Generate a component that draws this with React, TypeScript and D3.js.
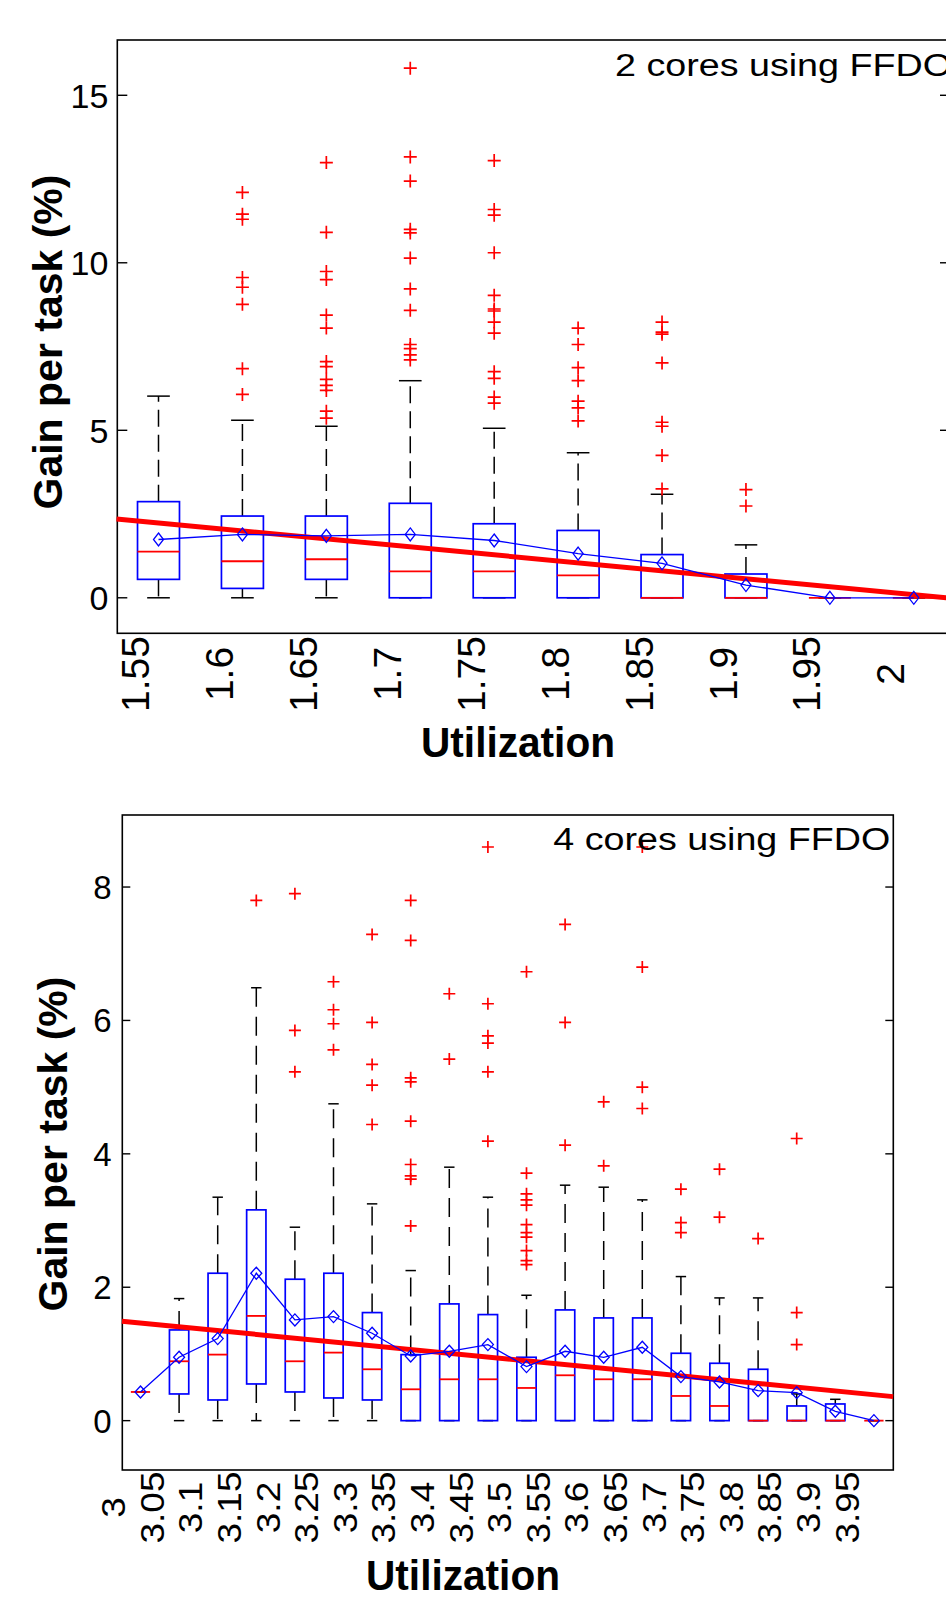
import * as d3 from 'd3'
import { useEffect, useRef } from 'react'

// ---- top panel: 2 cores using FFDO ----
const topUtil = [1.55, 1.6, 1.65, 1.7, 1.75, 1.8, 1.85, 1.9, 1.95, 2.0]
const topLabels = ['1.55', '1.6', '1.65', '1.7', '1.75', '1.8', '1.85', '1.9', '1.95', '2']
const topQ1 = [0.55, 0.28, 0.55, 0, 0, 0, 0, 0, 0, 0]
const topMedian = [1.38, 1.09, 1.15, 0.79, 0.79, 0.67, 0, 0, 0, 0]
const topQ3 = [2.87, 2.44, 2.44, 2.82, 2.21, 2.01, 1.29, 0.71, 0, 0]
const topLow = [0, 0, 0, 0, 0, 0, 0, 0, 0, 0]
const topHigh = [6.02, 5.3, 5.12, 6.48, 5.06, 4.33, 3.09, 1.58, 0, 0]
const topMean = [1.74, 1.89, 1.85, 1.89, 1.71, 1.32, 1.03, 0.38, 0, 0]
const topOutliers = [
    [],
    [12.1, 11.45, 11.3, 9.56, 9.27, 8.76, 6.84, 6.07],
    [12.99, 10.91, 9.74, 9.5, 8.44, 8.05, 7.05, 6.9, 6.52, 6.34, 6.19, 5.57, 5.36],
    [15.81, 13.16, 12.44, 11.0, 10.89, 10.14, 9.22, 8.58, 7.56, 7.44, 7.25, 7.1],
    [13.05, 11.59, 11.42, 10.3, 9.03, 8.62, 8.56, 8.23, 7.9, 6.75, 6.55, 5.99, 5.81],
    [8.05, 7.56, 6.87, 6.48, 5.87, 5.67, 5.28],
    [8.23, 7.93, 7.87, 7.01, 5.24, 5.12, 4.25, 3.25],
    [3.23, 2.74],
    [],
    []
]
const topTrend = [[1.525, 2.35], [2.02, 0]]
const topYTicks = [0, 5, 10, 15]

// ---- bottom panel: 4 cores using FFDO ----
const botUtil = [3.0, 3.05, 3.1, 3.15, 3.2, 3.25, 3.3, 3.35, 3.4, 3.45, 3.5, 3.55, 3.6, 3.65, 3.7, 3.75, 3.8, 3.85, 3.9, 3.95]
const botLabels = ['3', '3.05', '3.1', '3.15', '3.2', '3.25', '3.3', '3.35', '3.4', '3.45', '3.5', '3.55', '3.6', '3.65', '3.7', '3.75', '3.8', '3.85', '3.9', '3.95']
const botQ1 = [0.43, 0.40, 0.31, 0.55, 0.43, 0.34, 0.31, 0, 0, 0, 0, 0, 0, 0, 0, 0, 0, 0, 0, 0]
const botMedian = [0.43, 0.89, 0.99, 1.57, 0.89, 1.02, 0.77, 0.47, 0.62, 0.62, 0.49, 0.68, 0.62, 0.62, 0.37, 0.22, 0, 0, 0, 0]
const botQ3 = [0.43, 1.36, 2.21, 3.16, 2.12, 2.21, 1.62, 0.99, 1.75, 1.59, 0.95, 1.66, 1.54, 1.54, 1.01, 0.86, 0.77, 0.22, 0.25, 0]
const botLow = [0.43, 0, 0, 0, 0, 0, 0, 0, 0, 0, 0, 0, 0, 0, 0, 0, 0, 0, 0, 0]
const botHigh = [0.43, 1.83, 3.35, 6.49, 2.9, 4.75, 3.25, 2.25, 3.8, 3.35, 1.88, 3.53, 3.5, 3.31, 2.16, 1.84, 1.84, 0.4, 0.32, 0]
const botMean = [0.43, 0.95, 1.23, 2.21, 1.51, 1.56, 1.31, 0.97, 1.04, 1.14, 0.81, 1.04, 0.95, 1.1, 0.66, 0.58, 0.45, 0.42, 0.14, 0]
const botOutliers = [
    [],
    [],
    [],
    [7.8],
    [7.9, 5.85, 5.23],
    [6.58, 6.16, 5.95, 5.56],
    [7.29, 5.97, 5.34, 5.03, 4.44],
    [7.8, 7.2, 5.14, 5.08, 4.49, 3.84, 3.67, 3.62, 2.92],
    [6.4, 5.42],
    [8.6, 6.25, 5.77, 5.66, 5.23, 4.19],
    [6.73, 3.71, 3.4, 3.31, 3.23, 2.94, 2.82, 2.75, 2.55, 2.4, 2.34],
    [7.44, 5.97, 4.13],
    [4.78, 3.82],
    [8.6, 6.8, 5.0, 4.68],
    [3.47, 2.97, 2.82],
    [3.77, 3.05],
    [2.73],
    [4.23, 1.62, 1.14],
    [],
    []
]
const botTrend = [[2.976, 1.49], [3.975, 0.36]]
const botYTicks = [0, 2, 4, 6, 8]

const FONT = '"Liberation Sans", Arial, Helvetica, sans-serif'

function drawPanel(svg, p) {
    const g = svg.append('g')
    const n = p.util.length
    const x = d3.scaleLinear().domain([p.util[0], p.util[n - 1]]).range(p.xRange)
    const y = d3.scaleLinear().domain(p.yDomain).range([p.frame.bottom, p.frame.top])
    const step = (p.xRange[1] - p.xRange[0]) / (n - 1)
    const bw = step * 0.5
    const cw = step * 0.27

    // frame
    g.append('rect')
        .attr('x', p.frame.left).attr('y', p.frame.top)
        .attr('width', p.frame.right - p.frame.left).attr('height', p.frame.bottom - p.frame.top)
        .attr('fill', 'white').attr('stroke', 'black').attr('stroke-width', 1.6)

    // y ticks, inward on both sides
    p.yTicks.forEach(t => {
        g.append('line').attr('x1', p.frame.left).attr('x2', p.frame.left + p.tickLen)
            .attr('y1', y(t)).attr('y2', y(t)).attr('stroke', 'black').attr('stroke-width', 1.4)
        g.append('line').attr('x1', p.frame.right).attr('x2', p.frame.right - p.tickLen)
            .attr('y1', y(t)).attr('y2', y(t)).attr('stroke', 'black').attr('stroke-width', 1.4)
        g.append('text').attr('x', p.frame.left - p.yLabelGap).attr('y', y(t)).attr('dy', '0.36em')
            .attr('text-anchor', 'end').attr('font-family', FONT).attr('font-size', p.yTickSize)
            .text(String(t))
    })

    // x tick labels, rotated
    p.labels.forEach((lab, i) => {
        g.append('text')
            .attr('transform', `translate(${x(p.util[i]) + p.xLabelShift},${p.xLabelY}) rotate(-90) scale(${p.xLabelStretch},1)`)
            .attr('text-anchor', 'middle').attr('dy', '0.36em')
            .attr('font-family', FONT).attr('font-size', p.xTickSize)
            .text(lab)
    })

    // whiskers
    const wg = g.append('g').attr('stroke', 'black').attr('stroke-width', 1.5).attr('fill', 'none')
    for (let i = 0; i < n; i++) {
        const cx = x(p.util[i])
        if (p.high[i] > p.q3[i]) {
            wg.append('line').attr('x1', cx).attr('x2', cx).attr('y1', y(p.q3[i])).attr('y2', y(p.high[i]))
                .attr('stroke-dasharray', p.dash)
        }
        if (p.low[i] < p.q1[i]) {
            wg.append('line').attr('x1', cx).attr('x2', cx).attr('y1', y(p.q1[i])).attr('y2', y(p.low[i]))
                .attr('stroke-dasharray', p.dash)
        }
        wg.append('line').attr('x1', cx - cw / 2).attr('x2', cx + cw / 2).attr('y1', y(p.high[i])).attr('y2', y(p.high[i]))
        wg.append('line').attr('x1', cx - cw / 2).attr('x2', cx + cw / 2).attr('y1', y(p.low[i])).attr('y2', y(p.low[i]))
    }

    // boxes
    g.append('g').selectAll('rect').data(p.util).enter().append('rect')
        .attr('x', d => x(d) - bw / 2).attr('width', bw)
        .attr('y', (d, i) => y(p.q3[i])).attr('height', (d, i) => y(p.q1[i]) - y(p.q3[i]))
        .attr('fill', 'none').attr('stroke', '#0000ff').attr('stroke-width', 1.7)

    // medians
    g.append('g').selectAll('line').data(p.util).enter().append('line')
        .attr('x1', d => x(d) - bw / 2).attr('x2', d => x(d) + bw / 2)
        .attr('y1', (d, i) => y(p.median[i])).attr('y2', (d, i) => y(p.median[i]))
        .attr('stroke', '#ff0000').attr('stroke-width', 1.8)

    // outliers
    const og = g.append('g').attr('stroke', '#ff0000').attr('stroke-width', 1.7)
    p.outliers.forEach((arr, i) => {
        const cx = x(p.util[i])
        arr.forEach(v => {
            og.append('path').attr('d', `M${cx - p.plus},${y(v)}H${cx + p.plus}M${cx},${y(v) - p.plus}V${y(v) + p.plus}`)
        })
    })

    // red trend line
    const ln = d3.line().x(d => x(d[0])).y(d => y(d[1]))
    g.append('path').attr('d', ln(p.trend)).attr('fill', 'none')
        .attr('stroke', '#ff0000').attr('stroke-width', 5)

    // mean line + diamonds
    const meanPts = p.util.map((u, i) => [u, p.mean[i]])
    g.append('path').attr('d', ln(meanPts)).attr('fill', 'none')
        .attr('stroke', '#0000ff').attr('stroke-width', 1.3)
    g.append('g').selectAll('path').data(meanPts).enter().append('path')
        .attr('d', d => {
            const cx = x(d[0]), cy = y(d[1])
            return `M${cx},${cy - p.dh}L${cx + p.dw},${cy}L${cx},${cy + p.dh}L${cx - p.dw},${cy}Z`
        })
        .attr('fill', 'white').attr('fill-opacity', 0).attr('stroke', '#0000ff').attr('stroke-width', 1.3)

    // title inside the axes
    g.append('text').attr('x', p.titleX).attr('y', p.titleY)
        .attr('font-family', FONT).attr('font-size', 31)
        .attr('textLength', 337).attr('lengthAdjust', 'spacingAndGlyphs')
        .text(p.title)

    // axis labels
    g.append('text').attr('x', p.xTitleX).attr('y', p.xTitleY).attr('text-anchor', 'middle')
        .attr('font-family', FONT).attr('font-weight', 'bold').attr('font-size', 42)
        .attr('textLength', 194).attr('lengthAdjust', 'spacingAndGlyphs')
        .text('Utilization')
    g.append('text')
        .attr('transform', `translate(${p.yTitleX},${p.yTitleY}) rotate(-90)`)
        .attr('text-anchor', 'middle')
        .attr('font-family', FONT).attr('font-weight', 'bold').attr('font-size', 41)
        .text('Gain per task (%)')
}

function makeChart(node) {
    const svg = d3.select(node)
    svg.selectAll('*').remove()

    drawPanel(svg, {
        util: topUtil, labels: topLabels,
        q1: topQ1, median: topMedian, q3: topQ3, low: topLow, high: topHigh, mean: topMean,
        outliers: topOutliers, trend: topTrend, yTicks: topYTicks,
        frame: { left: 117.3, right: 950, top: 40, bottom: 633.3 },
        xRange: [158.5, 913.8], yDomain: [-1.06, 16.65],
        tickLen: 10, yLabelGap: 9, yTickSize: 34,
        xLabelShift: -23.5, xLabelY: 674, xLabelStretch: 1, xTickSize: 39,
        dash: '17,8', plus: 6.5, dw: 5, dh: 6.5,
        title: '2 cores using FFDO', titleX: 615, titleY: 75.5,
        xTitleX: 518, xTitleY: 757, yTitleX: 62, yTitleY: 342
    })

    drawPanel(svg, {
        util: botUtil, labels: botLabels,
        q1: botQ1, median: botMedian, q3: botQ3, low: botLow, high: botHigh, mean: botMean,
        outliers: botOutliers, trend: botTrend, yTicks: botYTicks,
        frame: { left: 122.3, right: 893.3, top: 815, bottom: 1470 },
        xRange: [140.5, 873.9], yDomain: [-0.74, 9.08],
        tickLen: 8, yLabelGap: 10.6, yTickSize: 33,
        xLabelShift: -27.2, xLabelY: 1507.5, xLabelStretch: 1.12, xTickSize: 33,
        dash: '19,10', plus: 6, dw: 5.5, dh: 6,
        title: '4 cores using FFDO', titleX: 553.3, titleY: 850,
        xTitleX: 463, xTitleY: 1590, yTitleX: 67, yTitleY: 1144
    })
}

function App() {
    const ref = useRef(null)
    useEffect(() => {
        makeChart(ref.current)
    })

    return (
        <svg ref={ref} width="946" height="1600"
            style={{ position: 'absolute', left: 0, top: 0, background: 'white', overflow: 'hidden' }}>
        </svg>
    )
}

export default App
